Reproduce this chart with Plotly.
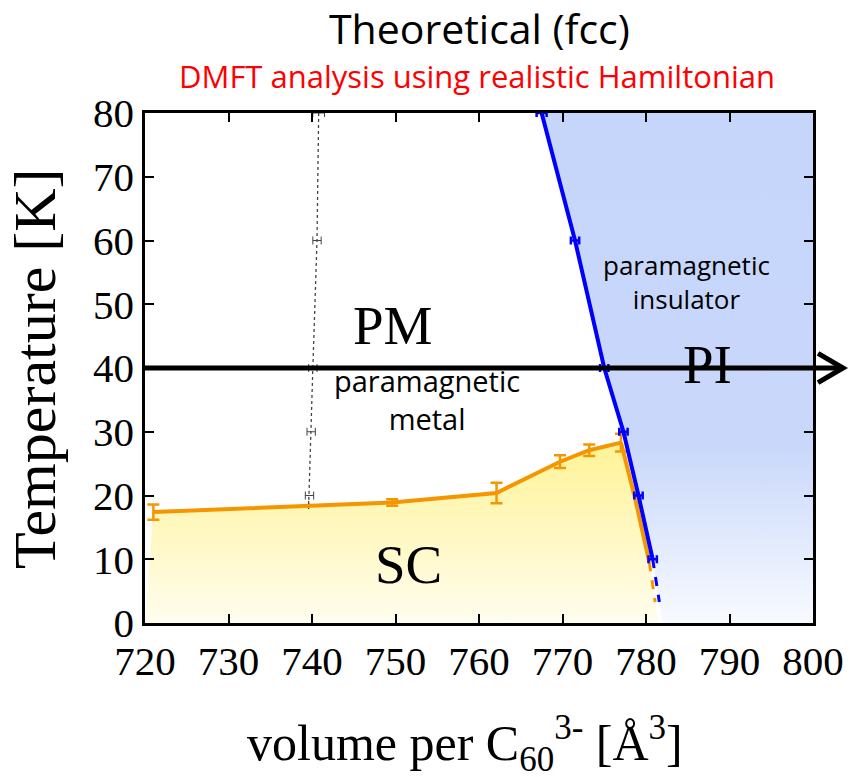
import plotly.graph_objects as go

# ---- data ----
x_ticks = [720, 730, 740, 750, 760, 770, 780, 790, 800]
y_ticks = [0, 10, 20, 30, 40, 50, 60, 70, 80]

# PM/PI boundary (blue)
pi_vol = [767.5, 771.5, 775.0, 777.3, 779.1, 780.8]
pi_T = [80, 60, 40, 30, 20, 10]
pi_err = [0.6, 0.5, 0.5, 0.5, 0.5, 0.5]
pi_ext_vol = [780.8, 781.6]
pi_ext_T = [10, 3.3]

# superconducting Tc (orange)
sc_vol = [721.0, 749.6, 762.1, 769.7, 773.2, 777.0]
sc_T = [17.4, 18.9, 20.4, 25.3, 27.1, 28.3]
sc_err = [1.2, 0.5, 1.6, 1.0, 0.9, 1.4]
sc_edge_vol = [777.0, 778.7, 780.4]
sc_edge_T = [28.3, 19.5, 9.5]
sc_ext_vol = [780.4, 781.1]
sc_ext_T = [9.5, 3.3]

# dotted crossover line (grey)
cr_vol = [740.8, 740.6, 740.1, 739.9, 739.7, 739.6]
cr_T = [80, 60, 40, 30, 20, 18.5]
cr_err = [0.7, 0.5, 0.5, 0.5, 0.5, 0.0]

x_range = [720, 800]
y_range = [0, 80]
arrow_T = 40
arrow_tip = 803.6

SERIF = "Liberation Serif"
SANS = "Open Sans"

W, H = 856, 777
M_L, M_R, M_T, M_B = 145, 37, 113, 154
PW, PH = W - M_L - M_R, H - M_T - M_B


def px(v):
    return (v - x_range[0]) / (x_range[1] - x_range[0])


def py(v):
    return (v - y_range[0]) / (y_range[1] - y_range[0])


def pap_x(pix):
    return (pix - M_L) / PW


def pap_y(pix):
    return (H - M_B - pix) / PH


fig = go.Figure()

# blue PI region (gradient to white at bottom)
pi_fill_x = pi_vol + [pi_ext_vol[-1], 782.0, x_range[1], x_range[1]]
pi_fill_y = pi_T + [pi_ext_T[-1], y_range[0], y_range[0], y_range[1]]
fig.add_trace(go.Scatter(
    x=pi_fill_x, y=pi_fill_y, mode="none", fill="toself",
    fillgradient=dict(type="vertical",
                      colorscale=[[0, "rgb(248,250,255)"], [0.35, "rgb(200,215,250)"], [1, "rgb(198,214,251)"]]),
    hoverinfo="skip", showlegend=False))

# yellow SC region
sc_fill_x = [x_range[0]] + sc_vol + sc_edge_vol[1:] + [sc_ext_vol[-1], 781.5]
sc_fill_y = [y_range[0]] + sc_T + sc_edge_T[1:] + [sc_ext_T[-1], y_range[0]]
fig.add_trace(go.Scatter(
    x=sc_fill_x, y=sc_fill_y, mode="none", fill="toself",
    fillgradient=dict(type="vertical",
                      colorscale=[[0, "rgb(255,253,238)"], [1, "rgb(255,243,150)"]]),
    hoverinfo="skip", showlegend=False))

# dotted crossover
fig.add_trace(go.Scatter(
    x=cr_vol, y=cr_T, mode="lines",
    line=dict(color="#444444", width=1.3, dash="dot"),
    error_x=dict(type="data", array=cr_err, color="#444444", thickness=1, width=4),
    showlegend=False))

# orange Tc
fig.add_trace(go.Scatter(
    x=sc_vol, y=sc_T, mode="lines",
    line=dict(color="rgb(245,150,0)", width=4),
    error_y=dict(type="data", array=sc_err, color="rgb(245,150,0)", thickness=2.5, width=6),
    showlegend=False))
fig.add_trace(go.Scatter(
    x=sc_edge_vol, y=sc_edge_T, mode="lines",
    line=dict(color="rgb(245,150,0)", width=4), showlegend=False))
fig.add_trace(go.Scatter(
    x=sc_ext_vol, y=sc_ext_T, mode="lines",
    line=dict(color="rgb(245,150,0)", width=3, dash="dash"), showlegend=False))

# blue boundary
fig.add_trace(go.Scatter(
    x=pi_vol, y=pi_T, mode="lines",
    line=dict(color="rgb(0,0,255)", width=4),
    error_x=dict(type="data", array=pi_err, color="rgb(0,0,255)", thickness=2.5, width=4),
    showlegend=False))
fig.add_trace(go.Scatter(
    x=pi_ext_vol, y=pi_ext_T, mode="lines",
    line=dict(color="rgb(0,0,255)", width=3, dash="dash"), showlegend=False))

# horizontal arrow at 40 K (paper coords so it can extend past the frame)
fig.add_shape(type="line", xref="paper", yref="paper",
              x0=px(x_range[0]), x1=px(arrow_tip) - 0.002, y0=py(arrow_T), y1=py(arrow_T),
              line=dict(color="black", width=5))
fig.add_shape(type="path", xref="paper", yref="paper",
              path=(f"M {px(arrow_tip - 3.0)},{py(arrow_T + 2.3)} "
                    f"L {px(arrow_tip)},{py(arrow_T)} "
                    f"L {px(arrow_tip - 3.0)},{py(arrow_T - 2.3)}"),
              line=dict(color="black", width=5))

ann = []
ann.append(dict(x=749.7, y=46.7, text="PM", font=dict(family=SERIF, size=55, color="black")))
ann.append(dict(x=787.4, y=40.5, text="PI", font=dict(family=SERIF, size=55, color="black")))
ann.append(dict(x=751.5, y=9.1, text="SC", font=dict(family=SERIF, size=55, color="black")))
ann.append(dict(x=753.8, y=35.0, text="paramagnetic<br>metal",
                font=dict(family=SANS, size=29, color="black")))
ann.append(dict(x=784.9, y=53.5, text="paramagnetic<br>insulator",
                font=dict(family=SANS, size=26, color="black")))
for a in ann:
    a.update(xref="x", yref="y", showarrow=False, xanchor="center", yanchor="middle")

paper_ann = [
    dict(x=pap_x(483), y=pap_y(28), text="Theoretical (fcc)",
         font=dict(family=SANS, size=41, color="black")),
    dict(x=pap_x(480), y=pap_y(76), text="DMFT analysis using realistic Hamiltonian",
         font=dict(family=SANS, size=31, color="red")),
    dict(x=pap_x(468), y=pap_y(743),
         text="volume per C<sub>60</sub><sup>3-</sup> [Å<sup>3</sup>]",
         font=dict(family=SERIF, size=50, color="black")),
    dict(x=pap_x(34), y=pap_y(368), text="Temperature [K]", textangle=-90,
         font=dict(family=SERIF, size=60, color="black")),
]
for a in paper_ann:
    a.update(xref="paper", yref="paper", showarrow=False, xanchor="center", yanchor="middle")
    ann.append(a)
fig.update_layout(annotations=ann)

axis_common = dict(showline=True, linecolor="black", linewidth=2.5, mirror="ticks",
                   ticks="inside", ticklen=9, tickwidth=2, tickcolor="black",
                   showgrid=False, zeroline=False,
                   tickfont=dict(family=SERIF, size=41, color="black"))
fig.update_xaxes(range=x_range, tickvals=x_ticks, **axis_common)
fig.update_yaxes(range=y_range, tickvals=y_ticks, **axis_common)

fig.update_layout(width=W, height=H, margin=dict(l=M_L, r=M_R, t=M_T, b=M_B),
                  plot_bgcolor="white", paper_bgcolor="white")

fig.write_html("out.html")
